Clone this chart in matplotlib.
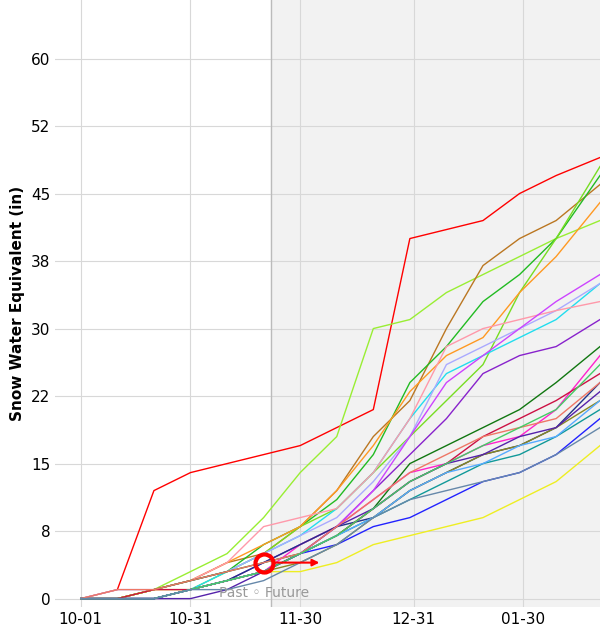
import matplotlib
matplotlib.use("Agg")
import matplotlib.pyplot as plt

# day offsets from 10-01
days = [0, 10, 20, 30, 40, 50, 60, 70, 80, 90, 100, 110, 120, 130, 142]

series = [
    ("#ff0000", [0, 1, 12, 14, 15, 16, 17, 19, 21, 40, 41, 42, 45, 47, 49]),
    ("#99ee33", [0, 0, 1, 3, 5, 9, 14, 18, 30, 31, 34, 36, 38, 40, 42]),
    ("#bb7722", [0, 0, 1, 2, 4, 5, 8, 12, 18, 22, 30, 37, 40, 42, 46]),
    ("#22bb22", [0, 0, 1, 2, 3, 6, 8, 11, 16, 24, 28, 33, 36, 40, 47]),
    ("#77dd22", [0, 0, 0, 1, 3, 5, 8, 10, 14, 18, 22, 26, 34, 40, 48]),
    ("#ff9922", [0, 0, 1, 2, 4, 6, 8, 12, 17, 23, 27, 29, 34, 38, 44]),
    ("#22ddee", [0, 0, 0, 1, 3, 5, 7, 10, 14, 20, 25, 27, 29, 31, 35]),
    ("#aaaaff", [0, 1, 1, 2, 3, 5, 7, 9, 13, 18, 26, 28, 30, 32, 35]),
    ("#8822cc", [0, 0, 0, 1, 2, 4, 6, 8, 12, 16, 20, 25, 27, 28, 31]),
    ("#ff99aa", [0, 0, 1, 2, 4, 8, 9, 10, 14, 20, 28, 30, 31, 32, 33]),
    ("#cc44ff", [0, 0, 0, 1, 2, 3, 5, 8, 12, 18, 24, 27, 30, 33, 36]),
    ("#117711", [0, 0, 1, 2, 3, 4, 5, 7, 10, 15, 17, 19, 21, 24, 28]),
    ("#ff22cc", [0, 0, 0, 1, 2, 3, 6, 8, 11, 14, 15, 17, 18, 21, 27]),
    ("#2222ff", [0, 0, 0, 1, 2, 3, 5, 6, 8, 9, 11, 13, 14, 16, 20]),
    ("#223388", [0, 0, 0, 1, 2, 4, 6, 8, 9, 12, 14, 16, 17, 19, 24]),
    ("#eeee22", [0, 0, 1, 1, 2, 3, 3, 4, 6, 7, 8, 9, 11, 13, 17]),
    ("#119999", [0, 0, 0, 1, 2, 3, 5, 7, 9, 11, 13, 15, 16, 18, 21]),
    ("#cc1144", [0, 0, 1, 1, 2, 3, 5, 7, 10, 13, 15, 18, 20, 22, 25]),
    ("#888822", [0, 0, 0, 1, 2, 3, 4, 6, 9, 12, 14, 16, 17, 19, 22]),
    ("#55aaff", [0, 0, 0, 1, 2, 3, 5, 7, 9, 12, 14, 15, 17, 18, 22]),
    ("#5522aa", [0, 0, 0, 0, 1, 3, 5, 8, 10, 13, 15, 16, 18, 19, 23]),
    ("#ee7766", [0, 1, 1, 2, 3, 4, 5, 8, 11, 14, 16, 18, 19, 20, 24]),
    ("#44cc66", [0, 0, 0, 1, 2, 3, 5, 7, 10, 13, 15, 17, 19, 21, 26]),
    ("#6688aa", [0, 0, 0, 1, 1, 2, 4, 6, 9, 11, 12, 13, 14, 16, 19]),
]

tick_days = [0, 30, 60, 91, 121]
tick_labels = ["10-01", "10-31", "11-30", "12-31", "01-30"]
ytick_vals = [0, 7.5, 15, 22.5, 30, 37.5, 45, 52.5, 60]
ytick_labels = ["0", "8", "15", "22", "30", "38", "45", "52", "60"]
today = 52

fig, ax = plt.subplots(figsize=(6.0, 6.4), dpi=100)
fig.subplots_adjust(left=0.092, right=1.0, bottom=0.052, top=1.0)

ax.axvspan(today, 160, color="#f2f2f2", zorder=0)
ax.axvline(today, color="#bbbbbb", lw=1, zorder=1)
for c, v in series:
    ax.plot(days, v, color=c, lw=1.0, zorder=2)

ax.plot(today - 2, 4, "o", ms=13, mfc="none", mec="red", mew=3, zorder=5)
ax.annotate("", xy=(today + 14, 4), xytext=(today, 4),
            arrowprops=dict(arrowstyle="-|>", color="red", lw=1.5), zorder=5)
ax.text(today - 2, 0.6, "Past \u25e6 Future", color="#999999", fontsize=10,
        ha="center", va="center", zorder=4)

ax.set_xlim(-7, 142)
ax.set_ylim(-0.9, 66.5)
ax.set_xticks(tick_days)
ax.set_xticklabels(tick_labels, fontsize=11)
ax.set_yticks(ytick_vals)
ax.set_yticklabels(ytick_labels, fontsize=11)
ax.grid(True, color="#d8d8d8", lw=0.8, zorder=0)
ax.set_axisbelow(True)
for s in ax.spines.values():
    s.set_visible(False)
ax.tick_params(length=0)
ax.set_ylabel("Snow Water Equivalent (in)", fontsize=11, fontweight="bold")

fig.savefig("out.png", dpi=100)
